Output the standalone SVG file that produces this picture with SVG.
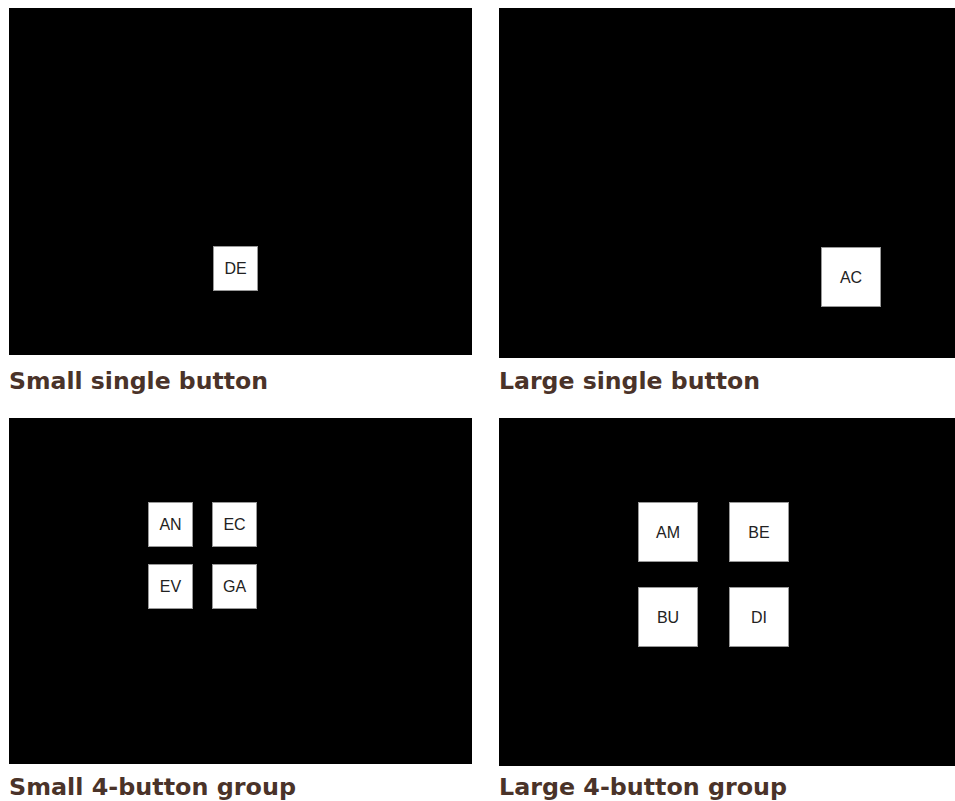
<svg xmlns="http://www.w3.org/2000/svg" width="955" height="801" viewBox="0 0 955 801">
<style>
.panel{fill:#000}
.btn{fill:#fff;stroke:#999;stroke-width:1}
.bt{font-family:"Liberation Sans",Arial,sans-serif;font-size:16px;fill:#222;text-anchor:middle;dominant-baseline:central}
.cap{font-family:"DejaVu Sans",Verdana,sans-serif;font-weight:bold;font-size:23.5px;fill:#4a3329}
</style>
<rect width="955" height="801" fill="#fff"/>
<g id="panel-small-single">
<rect class="panel" x="9" y="8" width="463" height="347"/>
<text class="cap" x="9" y="389" textLength="259" lengthAdjust="spacingAndGlyphs">Small single button</text>
</g>
<g id="panel-large-single">
<rect class="panel" x="499" y="8" width="456" height="350"/>
<text class="cap" x="499" y="389" textLength="261" lengthAdjust="spacingAndGlyphs">Large single button</text>
</g>
<g id="panel-small-4">
<rect class="panel" x="9" y="418" width="463" height="346"/>
<text class="cap" x="9" y="795" textLength="287" lengthAdjust="spacingAndGlyphs">Small 4-button group</text>
</g>
<g id="panel-large-4">
<rect class="panel" x="499" y="418" width="456" height="348"/>
<text class="cap" x="499" y="795" textLength="288" lengthAdjust="spacingAndGlyphs">Large 4-button group</text>
</g>
<g id="btn-DE"><rect class="btn" x="213.5" y="246.5" width="44" height="44"/><text class="bt" x="235.5" y="268.5">DE</text></g>
<g id="btn-AC"><rect class="btn" x="821.5" y="247.5" width="59" height="59"/><text class="bt" x="851" y="277">AC</text></g>
<g id="btn-AN"><rect class="btn" x="148.5" y="502.5" width="44" height="44"/><text class="bt" x="170.5" y="524.5">AN</text></g>
<g id="btn-EC"><rect class="btn" x="212.5" y="502.5" width="44" height="44"/><text class="bt" x="234.5" y="524.5">EC</text></g>
<g id="btn-EV"><rect class="btn" x="148.5" y="564.5" width="44" height="44"/><text class="bt" x="170.5" y="586.5">EV</text></g>
<g id="btn-GA"><rect class="btn" x="212.5" y="564.5" width="44" height="44"/><text class="bt" x="234.5" y="586.5">GA</text></g>
<g id="btn-AM"><rect class="btn" x="638.5" y="502.5" width="59" height="59"/><text class="bt" x="668" y="532">AM</text></g>
<g id="btn-BE"><rect class="btn" x="729.5" y="502.5" width="59" height="59"/><text class="bt" x="759" y="532">BE</text></g>
<g id="btn-BU"><rect class="btn" x="638.5" y="587.5" width="59" height="59"/><text class="bt" x="668" y="617">BU</text></g>
<g id="btn-DI"><rect class="btn" x="729.5" y="587.5" width="59" height="59"/><text class="bt" x="759" y="617">DI</text></g>
<g id="connectors"></g>
</svg>
